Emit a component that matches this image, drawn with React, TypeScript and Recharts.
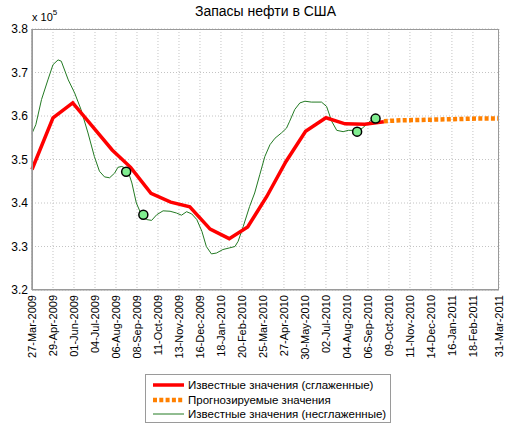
import { CartesianGrid, ComposedChart, Line, XAxis, YAxis } from "recharts";

// days counted from 27-Mar-2009, values in units of 10^5
const tickDays = [0, 33, 66, 99, 132, 165, 198, 231, 264, 297, 330, 363, 396, 429, 462, 495, 528, 561, 594, 627, 660, 693, 734];
const tickLabels = [
  "27-Mar-2009", "29-Apr-2009", "01-Jun-2009", "04-Jul-2009", "06-Aug-2009", "08-Sep-2009",
  "11-Oct-2009", "13-Nov-2009", "16-Dec-2009", "18-Jan-2010", "20-Feb-2010", "25-Mar-2010",
  "27-Apr-2010", "30-May-2010", "02-Jul-2010", "04-Aug-2010", "06-Sep-2010", "09-Oct-2010",
  "11-Nov-2010", "14-Dec-2010", "16-Jan-2011", "18-Feb-2011", "31-Mar-2011",
];
const yTicks = [3.2, 3.3, 3.4, 3.5, 3.6, 3.7, 3.8];

const smoothDays = [0, 33, 64, 94, 126, 155, 187, 218, 248, 280, 310, 339, 369, 399, 430, 462, 492, 523, 553];
const smoothValues = [3.477, 3.596, 3.63, 3.578, 3.522, 3.482, 3.422, 3.402, 3.391, 3.34, 3.318, 3.345, 3.415, 3.495, 3.565, 3.596, 3.582, 3.581, 3.587];

const forecastDays = [553, 580, 610, 640, 670, 700, 734];
const forecastValues = [3.588, 3.59, 3.591, 3.592, 3.593, 3.594, 3.594];

const rawDays = [
  0, 6, 15, 25, 33, 41, 46, 57, 67, 77, 88, 98, 106, 114, 122, 130, 135, 141, 147, 151, 157, 164,
  172, 180, 188, 196, 206, 217, 227, 235, 243, 251, 259, 267, 274, 282, 290, 300, 311, 319, 324,
  332, 342, 350, 358, 366, 374, 382, 392, 400, 405, 413, 421, 429, 439, 455, 463, 471, 479, 489,
  497, 505, 512, 520, 531, 540,
];
const rawValues = [
  3.56, 3.58, 3.638, 3.683, 3.718, 3.729, 3.726, 3.683, 3.653, 3.615, 3.561, 3.507, 3.473, 3.46,
  3.458, 3.469, 3.482, 3.484, 3.48, 3.473, 3.446, 3.4, 3.373, 3.362, 3.36, 3.373, 3.382, 3.381,
  3.377, 3.372, 3.38, 3.375, 3.362, 3.335, 3.3, 3.283, 3.285, 3.293, 3.297, 3.3, 3.312, 3.346,
  3.392, 3.423, 3.465, 3.507, 3.534, 3.549, 3.561, 3.572, 3.588, 3.615, 3.63, 3.634, 3.632, 3.632,
  3.622, 3.588, 3.567, 3.564, 3.567, 3.567, 3.565, 3.573, 3.588, 3.594,
];

const markerDays = [148, 175, 511, 540];
const markerValues = [3.472, 3.373, 3.564, 3.594];

const zip = (days: number[], vals: number[]) => days.map((day, i) => ({ day, v: vals[i] }));
const smoothData = zip(smoothDays, smoothValues);
const forecastData = zip(forecastDays, forecastValues);
const rawData = zip(rawDays, rawValues);
const markerData = zip(markerDays, markerValues);

const font = "'Liberation Sans', Arial, sans-serif";

function DateTick(props: any) {
  const { x, payload } = props;
  const label = tickLabels[tickDays.indexOf(payload.value)];
  const y = 295;
  return (
    <text x={x} y={y} transform={`rotate(-90, ${x}, ${y})`} textAnchor="end" dy="0.35em" fontSize={11} fill="#000" fontFamily={font}>
      {label}
    </text>
  );
}

const legendItems = [
  { label: "Известные значения (сглаженные)", color: "#ff0000", width: 3.5, dash: undefined },
  { label: "Прогнозируемые значения", color: "#ff8000", width: 4.5, dash: "4 2.3" },
  { label: "Известные значения (несглаженные)", color: "#237a23", width: 1, dash: undefined },
];

export default function App() {
  return (
    <div style={{ position: "absolute", left: 0, top: 0, width: 509, height: 427, background: "#fff", fontFamily: font }}>
      <ComposedChart width={509} height={427} data={smoothData} margin={{ top: 29, right: 10, bottom: 107, left: 0 }}>
        <CartesianGrid stroke="#c4c4c4" strokeDasharray="1 2" />
        <XAxis
          dataKey="day"
          type="number"
          domain={[0, 734]}
          ticks={tickDays}
          interval={0}
          height={30}
          axisLine={{ stroke: "#9a9a9a" }}
          tickLine={false}
          tick={<DateTick />}
        />
        <YAxis
          type="number"
          domain={[3.2, 3.8]}
          ticks={yTicks}
          width={32}
          interval={0}
          axisLine={{ stroke: "#9a9a9a", strokeWidth: 1.5 }}
          tickLine={false}
          tickSize={2}
          tickMargin={2}
          tickFormatter={(v: number) => v.toFixed(1)}
          tick={{ fontSize: 12, fill: "#000", fontFamily: font }}
        />
        <Line data={rawData} dataKey="v" type="linear" stroke="#237a23" strokeWidth={1} dot={false} isAnimationActive={false} />
        <Line data={smoothData} dataKey="v" type="linear" stroke="#ff0000" strokeWidth={3.5} dot={false} isAnimationActive={false} />
        <Line data={forecastData} dataKey="v" type="monotone" stroke="#ff8000" strokeWidth={4.5} strokeDasharray="4 2.3" dot={false} isAnimationActive={false} />
        <Line
          data={markerData}
          dataKey="v"
          stroke="none"
          dot={{ r: 4.5, fill: "#80ee90", stroke: "#000", strokeWidth: 1.5 }}
          isAnimationActive={false}
        />
      </ComposedChart>

      <div style={{ position: "absolute", left: 32, top: 29, width: 467, height: 261, border: "1px solid #9a9a9a", boxSizing: "border-box", pointerEvents: "none" }} />

      <div style={{ position: "absolute", left: 0, width: 531, top: 3, textAlign: "center", fontSize: 14, color: "#000" }}>
        Запасы нефти в США
      </div>
      <div style={{ position: "absolute", left: 32, top: 11, fontSize: 11, color: "#000" }}>
        x 10<sup style={{ fontSize: 8, verticalAlign: 0, position: "relative", top: -6 }}>5</sup>
      </div>

      <div style={{ position: "absolute", left: 145, top: 374, width: 246, height: 49, border: "1px solid #9a9a9a", boxSizing: "border-box", background: "#fff" }}>
        {legendItems.map((item, i) => (
          <div key={item.label} style={{ position: "absolute", left: 0, top: 3 + i * 14.5, height: 14, display: "flex", alignItems: "center" }}>
            <svg width={40} height={14} style={{ display: "block" }}>
              <line x1={7} x2={38} y1={7} y2={7} stroke={item.color} strokeWidth={item.width} strokeDasharray={item.dash} />
            </svg>
            <span style={{ fontSize: 11.5, color: "#000", marginLeft: 2, whiteSpace: "nowrap" }}>{item.label}</span>
          </div>
        ))}
      </div>
    </div>
  );
}
